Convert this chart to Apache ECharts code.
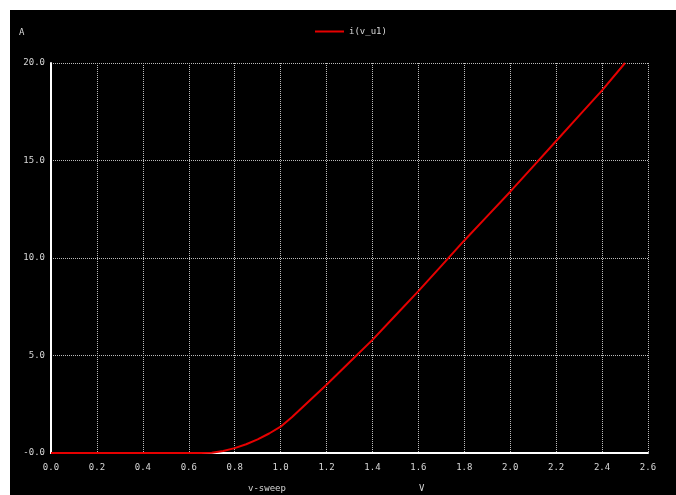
<!DOCTYPE html>
<html>
<head>
<meta charset="utf-8">
<script src="https://cdn.jsdelivr.net/npm/echarts@6/dist/echarts.min.js"></script>
<style>
html,body{margin:0;padding:0;background:#fff;width:676px;height:495px;overflow:hidden;}
#c{position:absolute;left:10px;top:10px;width:666px;height:485px;background:#000;}
</style>
</head>
<body>
<div id="c"></div>
<script>
const seriesName = 'i(v_u1)';
const sweepV = [0, 0.1, 0.2, 0.3, 0.4, 0.5, 0.6, 0.65, 0.7, 0.75, 0.8, 0.85, 0.9, 0.95, 1.0, 1.05, 1.1, 1.15, 1.2, 1.3, 1.4, 1.5, 1.6, 1.7, 1.8, 1.9, 2.0, 2.1, 2.2, 2.3, 2.4, 2.5];
const currentA = [0, 0, 0, 0, 0, 0, 0, 0, 0.01, 0.1, 0.25, 0.45, 0.7, 1.0, 1.35, 1.85, 2.4, 2.95, 3.5, 4.65, 5.8, 7.05, 8.3, 9.6, 10.9, 12.15, 13.4, 14.7, 16.0, 17.3, 18.6, 20.0];
const xTicks = {min: 0, max: 2.6, interval: 0.2};
const yTicks = {min: 0, max: 20, interval: 5};

const chart = echarts.init(document.getElementById('c'), null, {renderer: 'canvas'});
const mono = 'DejaVu Sans Mono';
const txt = '#d8d8d8';
chart.setOption({
  backgroundColor: '#000',
  animation: false,
  grid: {left: 41, right: 28, top: 53, bottom: 42, containLabel: false},
  legend: {
    data: [seriesName],
    top: 12, left: 300,
    icon: 'rect', itemWidth: 29, itemHeight: 2, itemGap: 7,
    textStyle: {color: txt, fontFamily: mono, fontSize: 9}
  },
  xAxis: {
    type: 'value', min: xTicks.min, max: xTicks.max, interval: xTicks.interval,
    axisLine: {show: true, lineStyle: {color: '#fff', width: 2}},
    axisTick: {show: false},
    axisLabel: {color: txt, fontFamily: mono, fontSize: 9, margin: 10,
      formatter: v => v.toFixed(1)},
    splitLine: {show: true, lineStyle: {color: '#bbb', type: [1, 1], width: 1}}
  },
  yAxis: {
    type: 'value', min: yTicks.min, max: yTicks.max, interval: yTicks.interval,
    axisLine: {show: true, lineStyle: {color: '#fff', width: 2}},
    axisTick: {show: false},
    axisLabel: {color: txt, fontFamily: mono, fontSize: 9, margin: 6,
      formatter: v => (v === 0 ? '-0.0' : v.toFixed(1))},
    splitLine: {show: true, lineStyle: {color: '#bbb', type: [1, 1], width: 1}}
  },
  graphic: [
    {type: 'text', left: 9, top: 18, style: {text: 'A', fill: txt, font: '9px "DejaVu Sans Mono"'}},
    {type: 'text', left: 238, top: 474, style: {text: 'v-sweep', fill: txt, font: '9px "DejaVu Sans Mono"'}},
    {type: 'text', left: 409, top: 474, style: {text: 'V', fill: txt, font: '9px "DejaVu Sans Mono"'}}
  ],
  series: [{
    name: seriesName,
    type: 'line',
    data: sweepV.map((x, i) => [x, currentA[i]]),
    showSymbol: false,
    smooth: false,
    lineStyle: {color: '#e60000', width: 2},
    itemStyle: {color: '#e60000'},
    z: 3
  }]
});
</script>
</body>
</html>
